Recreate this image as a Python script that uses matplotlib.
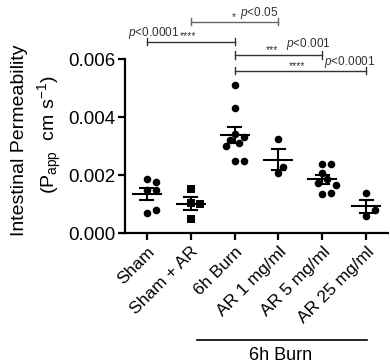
import matplotlib
matplotlib.use("Agg")
import matplotlib.pyplot as plt
import matplotlib.transforms as mtransforms
import numpy as np

plt.rcParams["font.family"] = "Liberation Sans"
plt.rcParams["mathtext.fontset"] = "custom"
plt.rcParams["mathtext.rm"] = "Liberation Sans"
plt.rcParams["mathtext.it"] = "Liberation Sans:italic"

# data (P_app, cm/s)
groups = ["Sham", "Sham + AR", "6h Burn", "AR 1 mg/ml", "AR 5 mg/ml", "AR 25 mg/ml"]
sham = [0.00185, 0.00175, 0.00150, 0.00150, 0.00070, 0.00080]
sham_ar = [0.00152, 0.00105, 0.00100, 0.00048]
burn = [0.0051, 0.0043, 0.0034, 0.0033, 0.0032, 0.0031, 0.0030, 0.0025, 0.0025]
ar1 = [0.00323, 0.00206, 0.00229]
ar5 = [0.00237, 0.00237, 0.00208, 0.00185, 0.00171, 0.00166, 0.00134, 0.00139]
ar25 = [0.00137, 0.00060, 0.00079]
values = [sham, sham_ar, burn, ar1, ar5, ar25]
markers = ["o", "s", "o", "o", "o", "o"]

# significance brackets: (from group, to group, stars, p text)
sig_from = [1, 0, 2, 2]
sig_to = [3, 2, 4, 5]
sig_stars = ["*", "****", "***", "****"]
sig_p = ["p<0.05", "p<0.0001", "p<0.001", "p<0.0001"]

YMAX = 0.006
fig = plt.figure(figsize=(3.9, 3.63), dpi=100)
ax = fig.add_axes([125 / 390, 130 / 363, 263 / 390, 174 / 363])
ax.set_xlim(-0.5, 5.5)
ax.set_ylim(0, YMAX)

px_x = 263 / 6.0          # pixels per category
px_y = 174 / YMAX         # pixels per unit value


def swarm(vals, d=7.5):
    placed, offs = [], []
    for v in vals:
        y = v * px_y
        for k in [0, 1, -1, 2, -2, 3, -3, 4, -4]:
            x = k * d * 0.6
            if all((x - px) ** 2 + (y - py) ** 2 >= (0.95 * d) ** 2 for px, py in placed):
                break
        placed.append((x, y))
        offs.append(x / px_x)
    return np.array(offs)


for i, (vals, mk) in enumerate(zip(values, markers)):
    vals = np.asarray(vals)
    off = swarm(vals)
    ax.scatter(i + off, vals, s=30 if mk == "o" else 26, marker=mk, color="black",
               zorder=3, clip_on=False, linewidths=0)
    m = vals.mean()
    sem = vals.std(ddof=1) / np.sqrt(len(vals))
    ax.plot([i - 0.32, i + 0.32], [m, m], color="black", lw=1.5, zorder=4)
    ax.plot([i, i], [m - sem, m + sem], color="black", lw=1.5, zorder=4)
    for e in (m - sem, m + sem):
        ax.plot([i - 0.15, i + 0.15], [e, e], color="black", lw=1.5, zorder=4)

for sp in ("top", "right"):
    ax.spines[sp].set_visible(False)
for sp in ("left", "bottom"):
    ax.spines[sp].set_linewidth(1.6)
ax.set_yticks([0, 0.002, 0.004, 0.006])
ax.set_yticklabels(["0.000", "0.002", "0.004", "0.006"])
ax.tick_params(axis="y", length=5, width=1.6, labelsize=13.5, pad=2)
ax.set_xticks(range(len(groups)))
ax.set_xticklabels(groups, rotation=45, ha="right", rotation_mode="anchor")
ax.tick_params(axis="x", length=5, width=1.6, labelsize=12.5, pad=3)

# brackets above the plot
bracket_y = [0.00729, 0.00660, 0.00614, 0.00560]
bracket_col = ["#666666", "#333333", "#333333", "#333333"]
star_pos = [(1.93, 0.00745), (0.74, 0.00678), (2.72, 0.00630), (3.24, 0.00575)]
p_pos = [(2.12, 0.00760), (-0.43, 0.00690), (3.18, 0.00652), (4.05, 0.00590)]
tick_h = 0.00013
for a, b, y, c, st, sp_, stp, pp in zip(sig_from, sig_to, bracket_y, bracket_col,
                                         sig_stars, sig_p, star_pos, p_pos):
    ax.plot([a, b], [y, y], color=c, lw=1.0, clip_on=False)
    for xx in (a, b):
        ax.plot([xx, xx], [y - tick_h, y + tick_h], color=c, lw=1.0, clip_on=False)
    ax.text(stp[0], stp[1], st, fontsize=7.5, color="#333333", ha="left", va="center",
            clip_on=False)
    ax.text(pp[0], pp[1], "$p$" + sp_[1:], fontsize=8.5, color="#333333", ha="left",
            va="center", clip_on=False)

# group underline "6h Burn"
trans = mtransforms.blended_transform_factory(ax.transData, fig.transFigure)
ax.plot([1.14, 5.03], [23 / 363, 23 / 363], color="black", lw=1.2, transform=trans,
        clip_on=False)
ax.text(3.05, 8 / 363, "6h Burn", transform=trans, ha="center", va="center", fontsize=13)

# y label, two lines
fig.text(20 / 390, 1 - 140 / 363, "Intestinal Permeability", rotation=90,
         ha="center", va="center", fontsize=14)
fig.text(50 / 390, 1 - 135 / 363, r"(P$_{\mathrm{app}}$  cm s$^{\mathrm{-1}}$)",
         rotation=90, ha="center", va="center", fontsize=14)

fig.savefig("out.png", dpi=100)
